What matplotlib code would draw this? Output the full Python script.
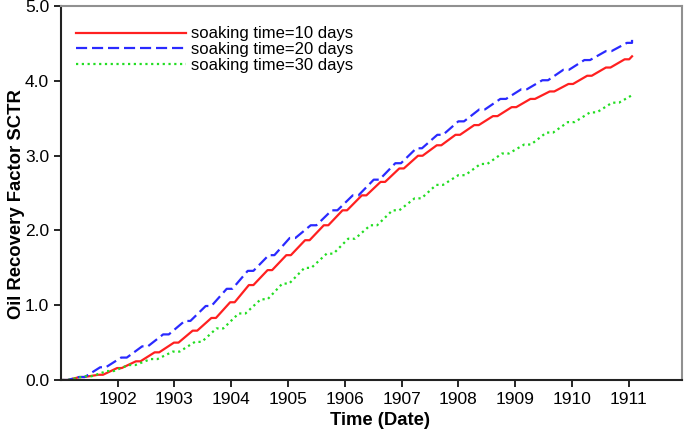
import numpy as np
import matplotlib.pyplot as plt

plt.rcParams['font.family'] = ['Liberation Sans', 'DejaVu Sans']

# cycle start (years) and recovery level of each flat (soak) step
t_start = 1901.02
t_end = 1911.06

red_t = [1901.33, 1901.66, 1901.99, 1902.32, 1902.65, 1902.99, 1903.32, 1903.65,
         1903.98, 1904.31, 1904.64, 1904.97, 1905.30, 1905.63, 1905.96, 1906.30,
         1906.63, 1906.96, 1907.29, 1907.62, 1907.95, 1908.28, 1908.61, 1908.94,
         1909.27, 1909.61, 1909.94, 1910.27, 1910.60, 1910.93]
red_y = [0.04, 0.07, 0.16, 0.25, 0.37, 0.50, 0.66, 0.83, 1.04, 1.27, 1.47, 1.67,
         1.87, 2.07, 2.27, 2.47, 2.65, 2.83, 3.00, 3.14, 3.28, 3.41, 3.53, 3.65,
         3.76, 3.86, 3.96, 4.07, 4.18, 4.29]
red_end = 4.33

blue_t = [1901.32, 1901.69, 1902.06, 1902.43, 1902.80, 1903.18, 1903.55, 1903.92,
          1904.29, 1904.66, 1905.03, 1905.40, 1905.77, 1906.14, 1906.51, 1906.89,
          1907.26, 1907.63, 1908.00, 1908.37, 1908.74, 1909.11, 1909.48, 1909.85,
          1910.22, 1910.60, 1910.97]
blue_y = [0.04, 0.17, 0.30, 0.45, 0.61, 0.79, 0.99, 1.22, 1.46, 1.67, 1.90, 2.07,
          2.27, 2.47, 2.68, 2.90, 3.10, 3.28, 3.46, 3.62, 3.76, 3.89, 4.01, 4.15,
          4.28, 4.40, 4.51]
blue_end = 4.55

green_t = [1901.42, 1901.81, 1902.19, 1902.58, 1902.97, 1903.36, 1903.74, 1904.13,
           1904.52, 1904.90, 1905.29, 1905.68, 1906.06, 1906.45, 1906.84, 1907.23,
           1907.61, 1908.00, 1908.39, 1908.77, 1909.16, 1909.55, 1909.93, 1910.32,
           1910.71]
green_y = [0.05, 0.12, 0.20, 0.28, 0.38, 0.51, 0.69, 0.89, 1.08, 1.29, 1.50, 1.69,
           1.89, 2.07, 2.27, 2.43, 2.61, 2.74, 2.89, 3.03, 3.15, 3.31, 3.45, 3.58,
           3.71]
green_end = 3.81

labels = ['soaking time=10 days', 'soaking time=20 days', 'soaking time=30 days']


def steps(ts, ys, y_end, flat):
    x = [t_start, t_start + 0.1]
    y = [0.0, 0.0]
    for t, v in zip(ts, ys):
        x += [t, min(t + flat, t_end)]
        y += [v, v]
    x.append(t_end)
    y.append(y_end)
    return np.array(x), np.array(y)


fig = plt.figure(figsize=(6.85, 4.33), dpi=100)
ax = fig.add_axes([0.089, 0.1224, 0.9066, 0.8632])

x, y = steps(red_t, red_y, red_end, 0.08)
ax.plot(x, y, color='#ff2020', lw=1.6, ls='-', label=labels[0])
x, y = steps(blue_t, blue_y, blue_end, 0.10)
ax.plot(x, y, color='#2a2aff', lw=1.6, ls=(0, (5, 2.2)), label=labels[1])
x, y = steps(green_t, green_y, green_end, 0.12)
ax.plot(x, y, color='#22dd22', lw=1.6, ls=(0, (1, 1.6)), label=labels[2])

ax.set_xlim(1901.0, 1911.94)
ax.set_ylim(0, 5.0)
ax.set_xticks(range(1902, 1912))
ax.set_yticks([0, 1, 2, 3, 4, 5])
ax.yaxis.set_major_formatter(plt.FormatStrFormatter('%.1f'))
ax.tick_params(direction='out', length=5, width=1.2, labelsize=12.5, top=False, right=False)

for side in ['left', 'bottom']:
    ax.spines[side].set_linewidth(1.5)
    ax.spines[side].set_color('#222222')
for side in ['top', 'right']:
    ax.spines[side].set_linewidth(1.5)
    ax.spines[side].set_color('#909090')

ax.set_xlabel('Time (Date)', fontsize=13.3, fontweight='bold', labelpad=5)
ax.xaxis.set_label_coords(0.514, -0.085)
ax.set_ylabel('Oil Recovery Factor SCTR', fontsize=13.3, fontweight='bold')
ax.yaxis.set_label_coords(-0.058, 0.471)

ax.legend(loc='upper left', bbox_to_anchor=(0.0245, 0.946), frameon=False,
          fontsize=12, handlelength=6.6, handletextpad=0.3, labelspacing=0.05,
          borderpad=0, borderaxespad=0)

fig.savefig('out.png', dpi=100)
